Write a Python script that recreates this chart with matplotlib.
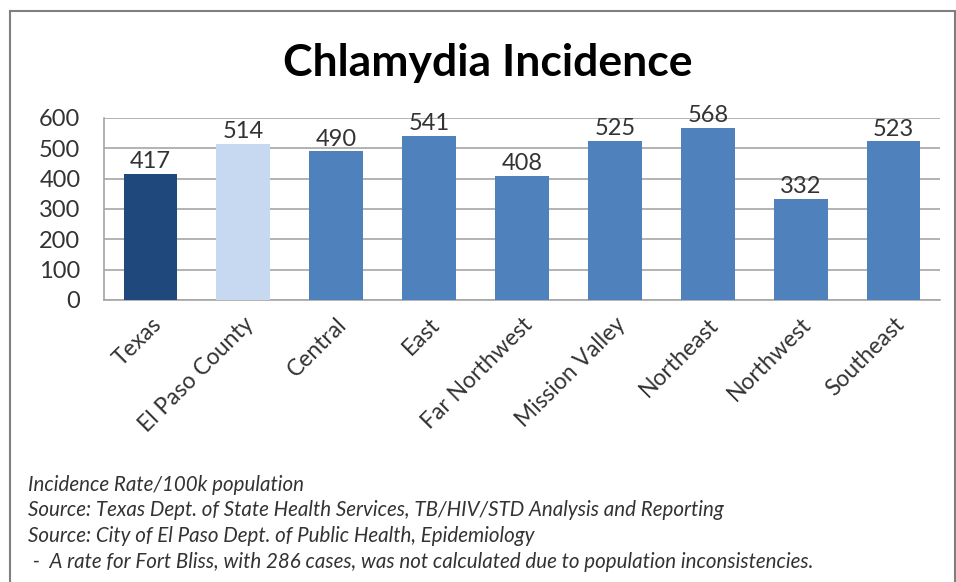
import matplotlib.pyplot as plt
from matplotlib.patches import Rectangle

categories = ['Texas', 'El Paso County', 'Central', 'East', 'Far Northwest',
              'Mission Valley', 'Northeast', 'Northwest', 'Southeast']
rates = [417, 514, 490, 541, 408, 525, 568, 332, 523]
bar_colors = ['#1F497D', '#C6D9F1'] + ['#4F81BD'] * 7
y_ticks = [0, 100, 200, 300, 400, 500, 600]
notes = [
    'Incidence Rate/100k population',
    'Source: Texas Dept. of State Health Services, TB/HIV/STD Analysis and Reporting',
    'Source: City of El Paso Dept. of Public Health, Epidemiology',
    ' -  A rate for Fort Bliss, with 286 cases, was not calculated due to population inconsistencies.',
]

plt.rcParams['font.family'] = ['Lato', 'DejaVu Sans']
text_color = '#333333'

fig = plt.figure(figsize=(9.56, 5.82), dpi=100)
fig.patches.append(Rectangle((10 / 956, -0.1), 945 / 956, 1.1 - 11 / 582,
                             transform=fig.transFigure, fill=False,
                             edgecolor='#7f7f7f', linewidth=1.5))

ax = fig.add_axes([104 / 956, 1 - 300 / 582, 836 / 956, 182 / 582])
x = range(len(categories))
bars = ax.bar(x, rates, width=0.58, color=bar_colors, zorder=3)
for b, v in zip(bars, rates):
    ax.text(b.get_x() + b.get_width() / 2, v + 6, str(v), ha='center', va='bottom',
            fontsize=17, color=text_color, zorder=4)

ax.set_xlim(-0.5, len(categories) - 0.5)
ax.set_ylim(0, 600)
ax.set_yticks(y_ticks)
ax.set_yticklabels([str(t) for t in y_ticks], fontsize=17, color=text_color)
ax.set_xticks(list(x))
ax.set_xticklabels(categories, rotation=45, ha='right', rotation_mode='anchor',
                   fontsize=16.5, color=text_color)
ax.tick_params(axis='both', length=0, pad=10)
ax.tick_params(axis='y', pad=17)
ax.yaxis.grid(True, color='#a6a6a6', linewidth=1.2, zorder=0)
for s in ['top', 'right']:
    ax.spines[s].set_visible(False)
for s in ['left', 'bottom']:
    ax.spines[s].set_color('#a6a6a6')
    ax.spines[s].set_linewidth(1.2)

fig.text(488 / 956, 1 - 63 / 582, 'Chlamydia Incidence', ha='center', va='center',
         fontsize=32, fontweight='bold', color='black')

for i, line in enumerate(notes):
    fig.text(28 / 956, 1 - (485 + i * 25.5) / 582, line, ha='left', va='center',
             fontsize=14.8, style='italic', color=text_color)

fig.savefig('out.png', dpi=100)
